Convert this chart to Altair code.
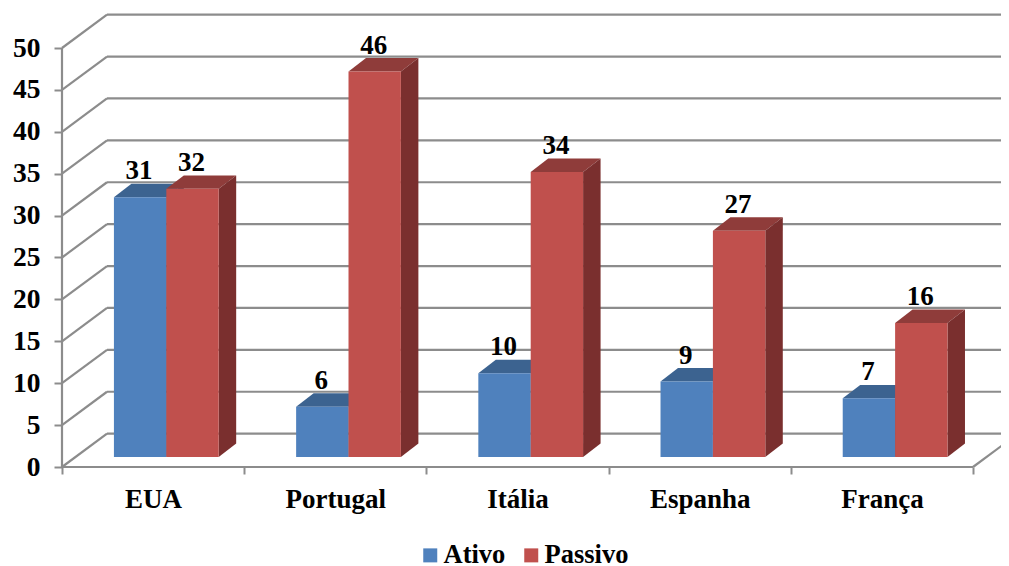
import json
import altair as alt
import pandas as pd

categories = ["EUA", "Portugal", "Itália", "Espanha", "França"]
ativo = [31, 6, 10, 9, 7]
passivo = [32, 46, 34, 27, 16]
y_ticks = [0, 5, 10, 15, 20, 25, 30, 35, 40, 45, 50]
series_names = ["Ativo", "Passivo"]
front_colors = ["#4F81BD", "#C0504D"]
top_colors = ["#3C6390", "#8F3C3A"]
side_colors = ["#2F4E73", "#7A2F2E"]

GRID = "#8C8C8C"
FONT = "Liberation Serif"
X_MAX = 939 / 182.2
Y_MAX = 459 / 8.38
FLOOR_DX, FLOOR_DY = 0.247, 3.98     # depth of the 3D floor in data units
BAR_DX, BAR_DY = 0.096, 1.61         # depth of a bar in data units
BASE = 1.19                          # bars stand this far up the floor
LEFTS = [0.285, 0.5725]
BAR_W = 0.2875

xs = alt.Scale(domain=[0, X_MAX], nice=False, zero=False)
ys = alt.Scale(domain=[0, Y_MAX], nice=False, zero=False)

label_expr = (
    "datum.value % 1 === 0 ? '' : "
    + json.dumps(categories).replace('"', "'")
    + "[floor(datum.value)]"
)
x_axis = alt.Axis(
    values=[i / 2 for i in range(11)], domain=False, grid=False,
    tickColor=GRID, tickWidth=2, tickSize=7,
    tickOpacity={"condition": {"test": "datum.value % 1 !== 0", "value": 0}, "value": 1},
    labelExpr=label_expr, labelFont=FONT, labelFontSize=27, labelFontWeight="bold",
    labelColor="black", labelPadding=12, labelOverlap=False, labelBound=False,
    labelFlush=False,
)
y_axis = alt.Axis(
    values=y_ticks, domain=False, grid=False, tickColor=GRID, tickWidth=2, tickSize=8,
    labelFont=FONT, labelFontSize=27.5, labelFontWeight="bold", labelColor="black",
    labelPadding=14, labelOverlap=False, labelBound=False, labelFlush=False,
)
X = alt.X("x:Q", scale=xs, title=None, axis=x_axis)
Y = alt.Y("y:Q", scale=ys, title=None, axis=y_axis)

# grid
grid = []
for v in y_ticks:
    grid.append(dict(x=0, x2=FLOOR_DX, y=v, y2=v + FLOOR_DY))
    grid.append(dict(x=FLOOR_DX, x2=5 + FLOOR_DX, y=v + FLOOR_DY, y2=v + FLOOR_DY))
grid.append(dict(x=0, x2=0, y=0, y2=50))
grid.append(dict(x=0, x2=5, y=0, y2=0))
grid.append(dict(x=5, x2=5 + FLOOR_DX, y=0, y2=FLOOR_DY))

grid_layer = alt.Chart(pd.DataFrame(grid)).mark_rule(color=GRID, strokeWidth=2.2).encode(
    x=X, x2="x2:Q", y=Y, y2="y2:Q",
)

# bars
area_layers = []
fronts, labels = [], []
for s, (name, vals) in enumerate(zip(series_names, [ativo, passivo])):
    tops, sides = [], []
    for i, val in enumerate(vals):
        x0 = i + LEFTS[s]
        x1 = x0 + BAR_W
        v = val + BASE
        fronts.append(dict(series=name, x=x0, x2=x1, y=BASE, y2=v))
        labels.append(dict(x=(x0 + x1) / 2, y=v, label=str(val)))
        tops += [
            dict(id=i, x=x0, y=v, y2=v),
            dict(id=i, x=x0 + BAR_DX, y=v, y2=v + BAR_DY),
            dict(id=i, x=x1, y=v, y2=v + BAR_DY),
            dict(id=i, x=x1 + BAR_DX, y=v + BAR_DY, y2=v + BAR_DY),
        ]
        sides += [
            dict(id=i, x=x1, y=BASE, y2=v),
            dict(id=i, x=x1 + BAR_DX, y=BASE + BAR_DY, y2=v + BAR_DY),
        ]
    for rows, col in ((tops, top_colors[s]), (sides, side_colors[s])):
        area_layers.append(
            alt.Chart(pd.DataFrame(rows)).mark_area(color=col, interpolate="linear").encode(
                x=X, y=Y, y2="y2:Q", detail="id:N",
            )
        )

front_layer = alt.Chart(pd.DataFrame(fronts)).mark_rect().encode(
    x=X, x2="x2:Q", y=Y, y2="y2:Q",
    color=alt.Color(
        "series:N",
        scale=alt.Scale(domain=series_names, range=front_colors),
        legend=alt.Legend(
            title=None, orient="none", direction="horizontal", legendX=355, legendY=534,
            symbolType="square", symbolSize=196, symbolStrokeWidth=0, symbolOpacity=1,
            labelFont=FONT, labelFontSize=26.5, labelFontWeight="bold", labelColor="black",
            labelOffset=0, columnPadding=12, padding=0,
        ),
    ),
)

text_layer = alt.Chart(pd.DataFrame(labels)).mark_text(
    font=FONT, fontSize=27, fontWeight="bold", color="black", dy=-18, dx=-1, baseline="alphabetic"
).encode(x=X, y=Y, text="label:N")

chart = alt.layer(grid_layer, *area_layers, front_layer, text_layer).properties(
    width=939,
    height=459,
    padding={"left": 54, "top": 0, "right": 0, "bottom": 99},
    autosize=alt.AutoSizeParams(type="none"),
    background="white",
).configure_view(stroke=None)

chart.save("out.html", embed_options={"renderer": "svg", "actions": False})
